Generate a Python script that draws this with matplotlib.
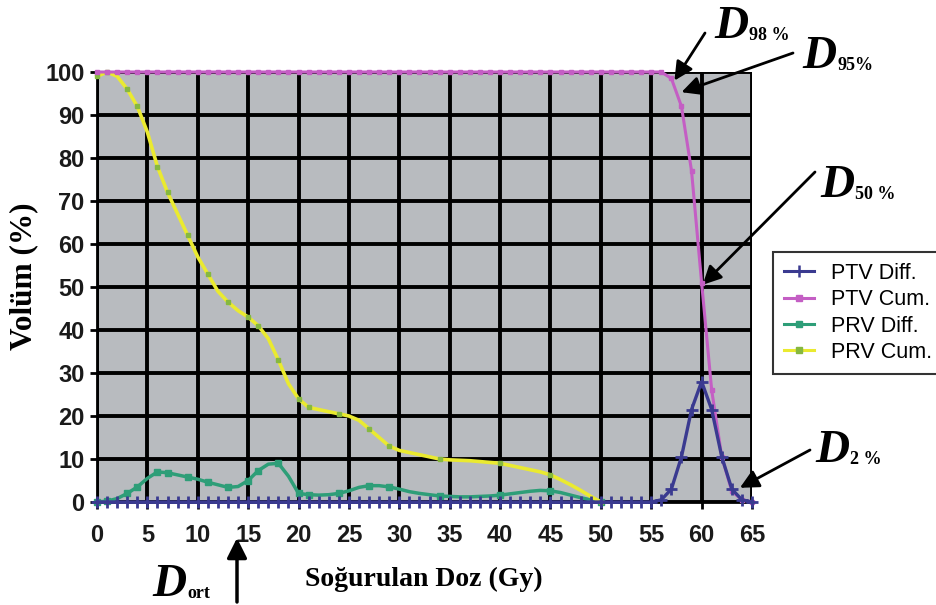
import numpy as np
import matplotlib
matplotlib.use("Agg")
import matplotlib.pyplot as plt
from matplotlib.lines import Line2D

# ---------------- data ----------------
ptv_dose = list(range(0, 66))
ptv_diff = [
    0, 0, 0, 0, 0, 0, 0, 0, 0, 0,
    0, 0, 0, 0, 0, 0, 0, 0, 0, 0,
    0, 0, 0, 0, 0, 0, 0, 0, 0, 0,
    0, 0, 0, 0, 0, 0, 0, 0, 0, 0,
    0, 0, 0, 0, 0, 0, 0, 0, 0, 0,
    0, 0, 0, 0, 0, 0, 0.5, 3, 10.5, 21.5,
    28, 21.5, 10.5, 3, 0.5, 0]
ptv_cum = [
    100, 100, 100, 100, 100, 100, 100, 100, 100, 100,
    100, 100, 100, 100, 100, 100, 100, 100, 100, 100,
    100, 100, 100, 100, 100, 100, 100, 100, 100, 100,
    100, 100, 100, 100, 100, 100, 100, 100, 100, 100,
    100, 100, 100, 100, 100, 100, 100, 100, 100, 100,
    100, 100, 100, 100, 100, 100, 100, 98.5, 92, 77,
    51, 26, 10.5, 2.5, 0.5, 0]

prv_dose = list(range(0, 51))
prv_diff = [
    0, 0.2, 0.8, 2, 3.5, 5.5, 7, 6.8, 6.3, 5.8,
    5.3, 4.6, 4, 3.4, 3.6, 5, 7.3, 8.8, 9, 6,
    2, 1.7, 1.6, 1.7, 2, 2.6, 3.4, 3.8, 3.8, 3.5,
    3, 2.4, 2, 1.7, 1.4, 1.3, 1.2, 1.2, 1.3, 1.4,
    1.6, 1.9, 2.2, 2.5, 2.7, 2.6, 2.2, 1.6, 1, 0.5,
    0]
prv_cum = [
    99, 100, 99, 96, 92, 86, 78, 72, 67, 62,
    57, 53, 49, 46.5, 44.5, 43, 41, 38, 33, 27.5,
    24, 22, 21.5, 21, 20.5, 20, 19, 17, 15, 13,
    12, 11.5, 11, 10.5, 10, 9.8, 9.7, 9.6, 9.4, 9.2,
    9, 8.5, 8, 7.5, 7, 6.3, 5.2, 4, 2.7, 1.3,
    0]

series_labels = ["PTV Diff.", "PTV Cum.", "PRV Diff.", "PRV Cum."]
x_ticks = list(range(0, 70, 5))
y_ticks = list(range(0, 110, 10))

# ---------------- style ----------------
W, H = 936, 605
fig = plt.figure(figsize=(W / 100, H / 100), dpi=100)
ax = fig.add_axes([97 / W, 1 - 502 / H, (752 - 97) / W, (502 - 72) / H])
ax.set_facecolor("#b8bbbf")

c_ptv_diff = "#3a3a90"
c_ptv_cum = "#c45ec4"
c_prv_diff = "#2e9e78"
c_prv_cum = "#eaea30"
c_prv_cum_mk = "#86b840"

prv_marks = [0, 1, 3, 4, 6, 7, 9, 11, 13, 15, 16, 18, 20, 21, 24, 27, 29, 34, 40, 45, 50]

ax.plot(prv_dose, prv_diff, color=c_prv_diff, lw=2.5, marker="s", ms=4,
        markevery=prv_marks, zorder=3, clip_on=False)
ax.plot(prv_dose, prv_cum, color=c_prv_cum, lw=2.6, marker="s", ms=3.5,
        mfc=c_prv_cum_mk, mec=c_prv_cum_mk, markevery=prv_marks, zorder=4, clip_on=False)
ax.plot(ptv_dose, ptv_cum, color=c_ptv_cum, lw=2.2, marker="s", ms=3,
        zorder=5, clip_on=False)
ax.plot(ptv_dose, ptv_diff, color=c_ptv_diff, lw=2.4, marker="+", ms=9, mew=2,
        zorder=6, clip_on=False)

ax.set_xlim(0, 65)
ax.set_ylim(0, 100)
ax.set_xticks(x_ticks)
ax.set_yticks(y_ticks)
ax.set_xticklabels([str(v) for v in x_ticks])
ax.set_yticklabels([str(v) for v in y_ticks])
ax.grid(True, color="black", lw=2.8, zorder=1)
ax.set_axisbelow(True)
for s in ["top", "right"]:
    ax.spines[s].set_visible(False)
for s in ["left", "bottom"]:
    ax.spines[s].set_color("black")
    ax.spines[s].set_linewidth(2)
ax.tick_params(axis="both", direction="out", length=5, width=2, color="black")
ax.tick_params(axis="x", pad=11)
ax.tick_params(axis="y", pad=4)
for lab in ax.get_xticklabels() + ax.get_yticklabels():
    lab.set_fontfamily("Liberation Sans")
    lab.set_fontweight("bold")
    lab.set_fontsize(17)
    lab.set_color("#1a1a1a")

# axis titles
fig.text(424 / W, 1 - 579 / H, "Soğurulan Doz (Gy)", ha="center", va="center",
         fontfamily="Liberation Serif", fontweight="bold", fontsize=20)
fig.text(24 / W, 1 - 276 / H, "Volüm (%)", ha="center", va="center", rotation=90,
         fontfamily="Liberation Serif", fontweight="bold", fontsize=22.5)

# legend
handles = [
    Line2D([], [], color=c_ptv_diff, lw=2.2, marker="+", ms=8, mew=1.8),
    Line2D([], [], color=c_ptv_cum, lw=2.2, marker="s", ms=5),
    Line2D([], [], color=c_prv_diff, lw=2.2, marker="s", ms=5),
    Line2D([], [], color=c_prv_cum, lw=2.2, marker="s", ms=5, mfc=c_prv_cum_mk, mec=c_prv_cum_mk),
]
leg = fig.legend(handles, series_labels, loc="upper left",
                 bbox_to_anchor=(773 / W, 1 - 252 / H), borderaxespad=0,
                 prop={"family": "Liberation Sans", "size": 15.5},
                 frameon=True, fancybox=False, handlelength=1.4,
                 labelspacing=0.25, handletextpad=0.8, borderpad=0.5)
leg.get_frame().set_edgecolor("black")
leg.get_frame().set_linewidth(1.5)

# annotations
def dlabel(x, y, sub):
    fig.text(x / W, 1 - y / H, "D", ha="left", va="baseline",
             fontfamily="Liberation Serif", fontweight="bold", fontstyle="italic", fontsize=34)
    fig.text((x + 35) / W, 1 - (y + 2) / H, sub, ha="left", va="baseline",
             fontfamily="Liberation Serif", fontweight="bold", fontsize=13)

arrow_kw = dict(arrowstyle="-|>", color="black", lw=2, mutation_scale=28,
                shrinkA=0, shrinkB=0)

def arrow(tip_data, start_px):
    ax.annotate("", xy=tip_data, xycoords="data",
                xytext=(start_px[0], H - start_px[1]), textcoords="figure pixels",
                arrowprops=arrow_kw, annotation_clip=False)

dlabel(714, 38, "98 %")
arrow((57.3, 98.0), (705, 33))
dlabel(802, 68, "95%")
arrow((58.0, 95.3), (793, 53))
dlabel(820, 197, "50 %")
arrow((60.1, 50.5), (815, 172))
dlabel(815, 462, "2 %")
arrow((63.8, 3.3), (810, 450))
dlabel(152, 596, "ort")
fig.add_artist(matplotlib.patches.FancyArrowPatch(
    posA=(237, H - 602), posB=(237, H - 538), transform=None,
    arrowstyle="-|>", color="black", lw=2.5, mutation_scale=30,
    shrinkA=0, shrinkB=0))

fig.savefig("out.png", dpi=100)
